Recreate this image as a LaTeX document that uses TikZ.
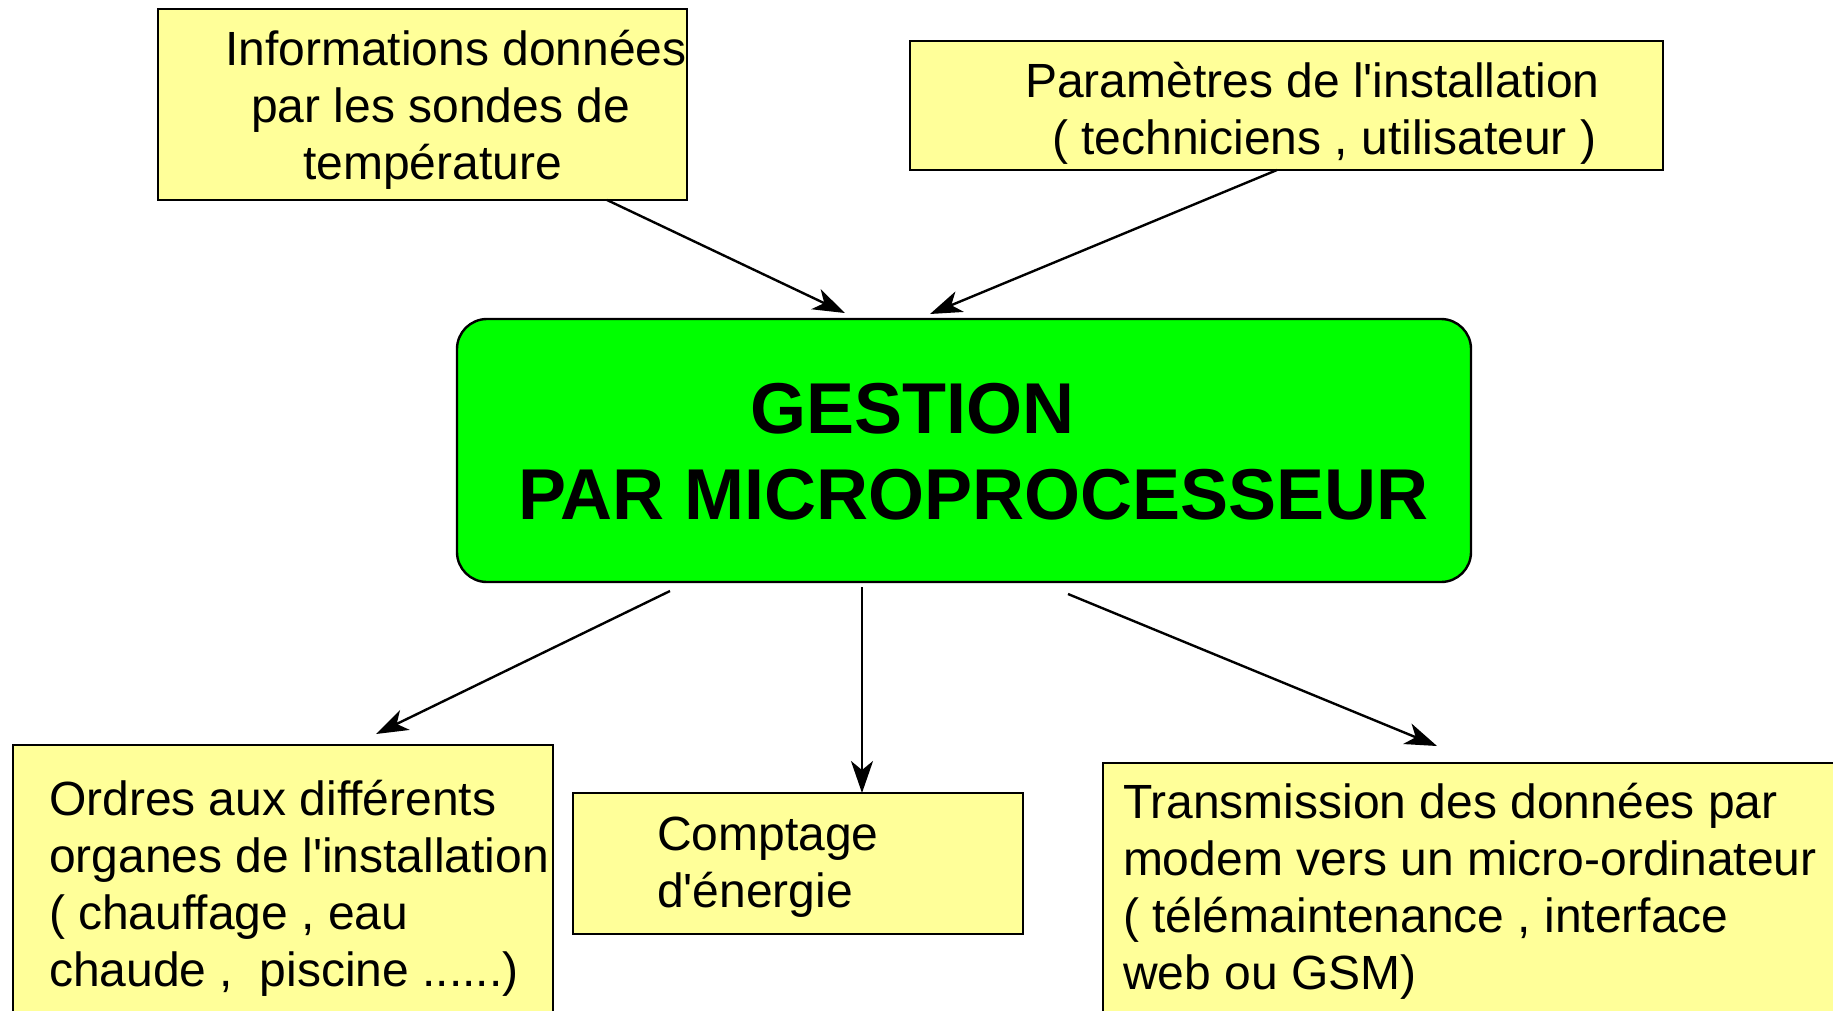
\documentclass[tikz,border=0pt]{standalone}
\usepackage{fontspec}
\setmainfont{Liberation Sans}[Ligatures=TeXOff]
\usetikzlibrary{arrows.meta}
\definecolor{ylw}{RGB}{255,255,153}
\definecolor{grn}{RGB}{0,255,0}
\newcommand{\txtlines}[1]{\fontsize{48}{57}\selectfont\begin{tabular}[t]{@{}l@{}}#1\end{tabular}}
\newcommand{\boldlines}[1]{\fontsize{72}{86}\selectfont\bfseries\begin{tabular}[t]{@{}l@{}}#1\end{tabular}}
\begin{document}
\begin{tikzpicture}[x=1pt,y=-1pt,
  ybox/.style={draw=black, line width=2.4pt, fill=ylw, inner sep=0pt, outer sep=0pt, anchor=north west},
  gbox/.style={draw=black, line width=2.4pt, fill=grn, rounded corners=30pt, inner sep=0pt, outer sep=0pt, anchor=north west},
  txt/.style={inner sep=0pt, outer sep=0pt, anchor=base west},
  arr/.style={line width=2.4pt, -{Stealth[length=32pt, width=22pt, inset=9pt]}}]
\useasboundingbox (0,0) rectangle (1833,1010);
\clip (0,0) rectangle (1833,1010);
% boxes
\node[ybox, minimum width=529pt, minimum height=191pt] (info) at (158,9) {};
\node[ybox, minimum width=753pt, minimum height=129pt] (param) at (910,41) {};
\node[gbox, minimum width=1014pt, minimum height=263pt] (gest) at (457,319) {};
\node[ybox, minimum width=540pt, minimum height=300pt] (ordres) at (13,745) {};
\node[ybox, minimum width=450pt, minimum height=141pt] (compt) at (573,793) {};
\node[ybox, minimum width=760pt, minimum height=280pt] (trans) at (1103,763) {};
% texts
\node[txt] (infot) at (225,65) {\txtlines{Informations données\\\hspace*{26pt}par les sondes de\\\hspace*{78pt}température}};
\node[txt] (paramt) at (1025,97) {\txtlines{Paramètres de l'installation\\\hspace*{27pt}( techniciens , utilisateur )}};
\node[txt] (gestt) at (518,433) {\boldlines{\hspace*{232pt}GESTION\\PAR MICROPROCESSEUR}};
\node[txt] (ordrest) at (49,815) {\txtlines{Ordres aux différents\\organes de l'installation\\( chauffage , eau\\chaude ,\ \ piscine ......)}};
\node[txt] (comptt) at (657,850) {\txtlines{Comptage\\d'énergie}};
\node[txt] (transt) at (1123,818) {\txtlines{Transmission des données par\\modem vers un micro-ordinateur\\( télémaintenance , interface\\web ou GSM)}};
% connectors
\draw[arr] ([xshift=449pt]info.south west) -- ([xshift=388pt, yshift=6pt]gest.north west);
\draw[arr] ([xshift=367pt]param.south west) -- ([xshift=473pt, yshift=5pt]gest.north west);
\draw[arr] ([xshift=213pt, yshift=-9pt]gest.south west) -- ([xshift=363pt, yshift=11pt]ordres.north west);
\draw[arr] ([xshift=405pt, yshift=-5pt]gest.south west) -- ([xshift=289pt]compt.north west);
\draw[arr] ([xshift=611pt, yshift=-12pt]gest.south west) -- ([xshift=334pt, yshift=17pt]trans.north west);
\end{tikzpicture}
\end{document}
